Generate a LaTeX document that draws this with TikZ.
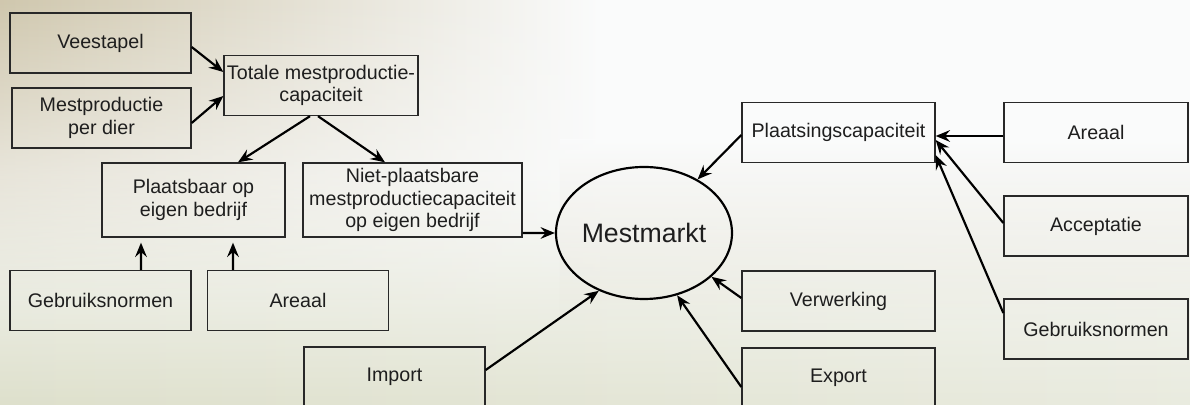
\documentclass[tikz,border=0pt]{standalone}
\usepackage{fontspec}
\setmainfont{Liberation Sans}
\usetikzlibrary{arrows.meta,shapes.geometric,fadings}
\definecolor{boxline}{RGB}{40,40,40}
\definecolor{textish}{RGB}{30,30,30}
\definecolor{treeish}{RGB}{200,190,160}
\definecolor{fieldish}{RGB}{222,224,204}
\definecolor{skyish}{RGB}{250,251,251}
\tikzset{
  mm_box/.style = {draw=boxline, rectangle, align=center, inner sep=0pt,
    minimum width=108.6pt, minimum height=36pt, line width=0.8pt,
    text=textish, font=\fontsize{11.8}{13.6}\selectfont},
  mm_wide/.style = {mm_box, minimum width=110.4pt},% rechter kolom
  mm_ell/.style = {draw=black, ellipse, inner sep=0pt, line width=1.3pt,
    minimum width=94.8pt, minimum height=79.2pt, text=textish,
    font=\fontsize{16}{18}\selectfont},
}
\begin{document}
\begin{tikzpicture}[x=0.6pt, y=-0.6pt, ->, >={Stealth[length=8.6pt,width=7pt,inset=3pt]},
  line width=1.3pt]
\useasboundingbox (0,0) rectangle (1190,405);
% achtergrond (weiland met bomen)
\fill[skyish] (0,0) rectangle (1190,405);
\shade[left color=fieldish, right color=skyish!40!fieldish, draw=none, path fading=north]
  (0,170) rectangle (1190,405);
\shade[left color=treeish!85!skyish, right color=skyish, draw=none, path fading=south]
  (0,0) rectangle (600,300);
\shade[top color=skyish, bottom color=treeish!40!skyish, draw=none, path fading=south]
  (560,140) rectangle (1190,320);

\node [mm_box] (vee) at (100.5,43) {Veestapel};
\node [mm_box, minimum width=107.4pt] (mpd) at (101.5,118) {Mestproductie\\per dier};
\node [mm_box, minimum width=116.4pt] (tot) at (321,85.5) {Totale mestproductie-\\capaciteit};
\node [mm_box, minimum width=109.8pt, minimum height=44.4pt] (plb) at (193.5,200) {Plaatsbaar op\\eigen bedrijf};
\node [mm_box, minimum width=131.4pt, minimum height=44.4pt] (npl) at (412.5,200)
  {Niet-plaatsbare\\mestproductiecapaciteit\\op eigen bedrijf};
\node [mm_box] (gbl) at (100.5,300.5) {Gebruiksnormen};
\node [mm_box] (arl) at (298,300.5) {Areaal};
\node [mm_ell] (mm) at (644,233) {Mestmarkt};
\node [mm_box] (imp) at (394.5,377) {Import};
\node [mm_box, minimum width=115.8pt] (plc) at (838.5,132.5) {Plaatsingscapaciteit};
\node [mm_box, minimum width=115.8pt] (vrw) at (838.5,301) {Verwerking};
\node [mm_box, minimum width=115.8pt] (exp) at (838.5,378) {Export};
\node [mm_wide] (arr) at (1096,132.5) {Areaal};
\node [mm_wide] (acc) at (1096,226) {Acceptatie};
\node [mm_wide] (gbr) at (1096,329) {Gebruiksnormen};

\draw ([yshift=-2.4pt]vee.east) -- ([yshift=8.1pt]tot.west);
\draw ([yshift=-3pt]mpd.east) -- ([yshift=-6.3pt]tot.west);
\draw ([xshift=-6.6pt]tot.south) -- ([xshift=26.7pt]plb.north);
\draw ([xshift=-1.8pt]tot.south) -- ([xshift=-16.5pt]npl.north);
\draw[shorten >=3pt] ([xshift=24.3pt]gbl.north) -- ([xshift=-31.5pt]plb.south);
\draw[shorten >=3pt] ([xshift=-39pt]arl.north) -- ([xshift=23.7pt]plb.south);
\draw ([yshift=-19.8pt]npl.east) -- (mm.west);
\draw ([yshift=4.2pt]imp.east) -- (mm.232);
\draw ([yshift=-1.5pt]plc.west) -- (mm.45);
\draw ([yshift=1.8pt]vrw.west) -- (mm.327);
\draw ([yshift=-5.4pt]exp.west) -- (mm.298);
\draw ([yshift=-2.1pt]arr.west) -- ([yshift=-2.1pt]plc.east);
\draw ([yshift=1.8pt]acc.west) -- ([yshift=-4.5pt]plc.east);
\draw ([yshift=9.6pt]gbr.west) -- ([yshift=-13.5pt]plc.east);
\end{tikzpicture}
\end{document}
